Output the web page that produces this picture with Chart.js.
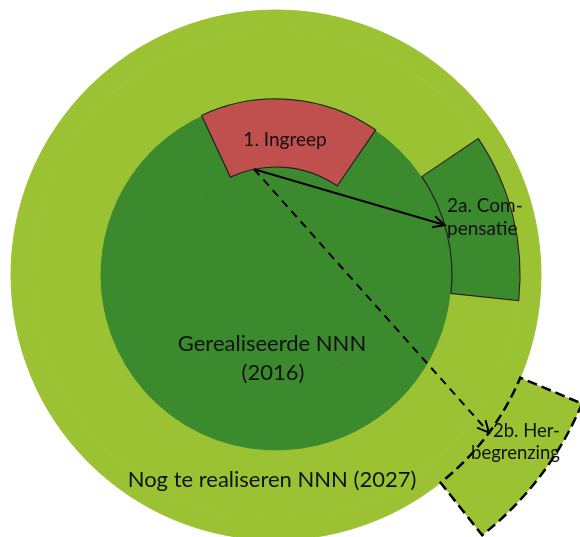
<!DOCTYPE html>
<html>
<head>
<meta charset="utf-8">
<script src="https://cdn.jsdelivr.net/npm/chart.js@4.4.1/dist/chart.umd.min.js"></script>
<style>
  html, body { margin: 0; padding: 0; background: #fff; }
  #wrap { position: relative; width: 580px; height: 537px; overflow: hidden; }
  #nnn { position: absolute; left: -56px; top: -57px; }
  .lbl { position: absolute; font-family: Lato, 'Open Sans', sans-serif; color: #111; white-space: nowrap; line-height: 1; }
  .c { transform: translate(-50%, -50%); }
  .l { transform: translate(0, -50%); }
  .r { transform: translate(-100%, -50%); }
</style>
</head>
<body>
<div id="wrap">
  <canvas id="nnn" width="664" height="664"></canvas>
  <div class="lbl c" style="left:285px; top:138px; font-size:19px">1. Ingreep</div>
  <div class="lbl l" style="left:447px; top:204px; font-size:19px">2a. Com-</div>
  <div class="lbl l" style="left:447px; top:227px; font-size:19px">pensatie</div>
  <div class="lbl r" style="left:560px; top:430px; font-size:18.5px">2b. Her-</div>
  <div class="lbl r" style="left:560px; top:452px; font-size:18.5px">begrenzing</div>
  <div class="lbl c" style="left:272px; top:343px; font-size:22px">Gerealiseerde NNN</div>
  <div class="lbl c" style="left:273px; top:372px; font-size:22px">(2016)</div>
  <div class="lbl c" style="left:272px; top:479px; font-size:22px">Nog te realiseren NNN (2027)</div>
</div>
<script>
// rings from outside to inside; weight = radial thickness of the ring
const ringNames = ['Herbegrenzing', 'Rand NNN 2027', 'Compensatie', 'Ingreep', 'Kern NNN 2016'];
const ringWeights = [67, 21, 68, 68, 108];
// start angle of each ring (degrees clockwise from top) and its segments in degrees
const ringRotation = [112.8, 0, 56, -25, 0];
const ringArcs = [
    [28.8, 331.2],
    [360],
    [40, 320],
    [59.5, 300.5],
    [360]
];
// which segment of which ring is outlined
const outlined = [
    { ring: 0, seg: 0, dash: [10, 5] },
    { ring: 2, seg: 0, dash: [] },
    { ring: 3, seg: 0, dash: [] }
];
// arrows from the Ingreep sector to the two alternatives (angles in degrees)
const arrowFrom = { ring: 3, seg: 0, angle: -11.7 };
const arrowTo = [
    { ring: 2, seg: 0, angle: 73.5, dash: [] },
    { ring: 0, seg: 0, angle: 126.5, dash: [8, 6] }
];

const LIGHT = '#9BC232';
const DARK = '#3C8A2E';
const RED = '#C0504D';
const ringFills = [
    [LIGHT, 'rgba(0,0,0,0)'],
    [LIGHT],
    [DARK, LIGHT],
    [RED, DARK],
    [DARK]
];

function props(el) {
    return el.getProps(['x', 'y', 'startAngle', 'endAngle', 'innerRadius', 'outerRadius'], true);
}

function polar(p, r, deg) {
    const a = (deg - 90) * Math.PI / 180;
    return { x: p.x + r * Math.cos(a), y: p.y + r * Math.sin(a) };
}

function drawArrow(ctx, from, to, dash) {
    ctx.save();
    ctx.strokeStyle = '#000';
    ctx.lineWidth = 2;
    ctx.setLineDash(dash);
    ctx.beginPath();
    ctx.moveTo(from.x, from.y);
    ctx.lineTo(to.x, to.y);
    ctx.stroke();
    ctx.setLineDash([]);
    const ang = Math.atan2(to.y - from.y, to.x - from.x);
    const len = 13, spread = 0.45;
    ctx.beginPath();
    ctx.moveTo(to.x - len * Math.cos(ang - spread), to.y - len * Math.sin(ang - spread));
    ctx.lineTo(to.x, to.y);
    ctx.lineTo(to.x - len * Math.cos(ang + spread), to.y - len * Math.sin(ang + spread));
    ctx.stroke();
    ctx.restore();
}

const outlinePlugin = {
    id: 'outlines',
    afterDatasetsDraw(chart) {
        const ctx = chart.ctx;
        outlined.forEach(o => {
            const p = props(chart.getDatasetMeta(o.ring).data[o.seg]);
            ctx.save();
            ctx.beginPath();
            ctx.arc(p.x, p.y, p.outerRadius, p.startAngle, p.endAngle);
            ctx.arc(p.x, p.y, p.innerRadius, p.endAngle, p.startAngle, true);
            ctx.closePath();
            ctx.strokeStyle = o.dash.length ? '#000' : '#222';
            ctx.lineWidth = o.dash.length ? 2.5 : 1.2;
            ctx.setLineDash(o.dash);
            ctx.stroke();
            ctx.restore();
        });
        const src = props(chart.getDatasetMeta(arrowFrom.ring).data[arrowFrom.seg]);
        const start = polar(src, src.innerRadius, arrowFrom.angle);
        arrowTo.forEach(t => {
            const p = props(chart.getDatasetMeta(t.ring).data[t.seg]);
            drawArrow(ctx, start, polar(p, p.innerRadius, t.angle), t.dash);
        });
    }
};

new Chart(document.getElementById('nnn'), {
    type: 'doughnut',
    data: {
        labels: ringArcs[0].map((_, i) => 'segment ' + (i + 1)),
        datasets: ringNames.map((name, i) => ({
            label: name,
            data: ringArcs[i],
            weight: ringWeights[i],
            rotation: ringRotation[i],
            backgroundColor: ringFills[i],
            borderColor: ringFills[i],
            borderWidth: i === 0 ? 0 : 1,
            hoverOffset: 0,
            offset: 0
        }))
    },
    options: {
        responsive: false,
        animation: false,
        events: [],
        cutout: 0,
        layout: { padding: 0 },
        plugins: {
            legend: { display: false },
            tooltip: { enabled: false }
        }
    },
    plugins: [outlinePlugin]
});
</script>
</body>
</html>
